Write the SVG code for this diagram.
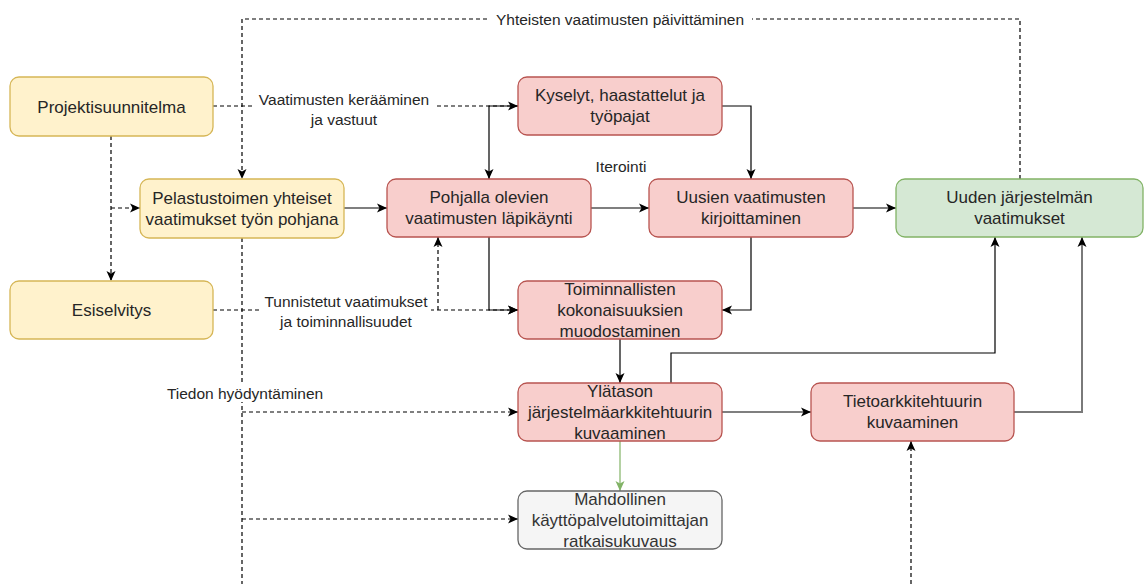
<svg xmlns="http://www.w3.org/2000/svg" width="1144" height="584" viewBox="0 0 1144 584">
<style>
.n text{font-family:"Liberation Sans",Arial,sans-serif;font-size:17px;fill:#262626;text-anchor:middle}
.y{fill:#fff2cc;stroke:#d6b656;stroke-width:1.3}
.r{fill:#f8cecc;stroke:#b85450;stroke-width:1.3}
.g{fill:#d5e8d4;stroke:#82b366;stroke-width:1.3}
.gr{fill:#f5f5f5;stroke:#666666;stroke-width:1.3}
.c path{fill:none;stroke:#000;stroke-width:1.2}
.c .d{stroke-dasharray:4 3}
.lb rect{fill:#fff}
.lb text{font-family:"Liberation Sans",Arial,sans-serif;font-size:15.5px;fill:#262626;text-anchor:middle}
</style>
<defs>
<marker id="a" viewBox="0 0 10 10" markerWidth="10" markerHeight="10" markerUnits="userSpaceOnUse" refX="10" refY="5" orient="auto"><path d="M0,0.5 L10,5 L0,9.5 L2.5,5 z" fill="#000"/></marker>
<marker id="ag" viewBox="0 0 10 10" markerWidth="10" markerHeight="10" markerUnits="userSpaceOnUse" refX="10" refY="5" orient="auto"><path d="M0,0.5 L10,5 L0,9.5 L2.5,5 z" fill="#82b366"/></marker>
</defs>
<rect width="1144" height="584" fill="#fff"/>
<g class="c" id="connectors">
<path class="d" d="M1020,179 V19 H242 V179" marker-end="url(#a)"/>
<path class="d" d="M213,106 H518" marker-end="url(#a)"/>
<path d="M518,106 H489 V179" marker-end="url(#a)"/>
<path d="M722,106 H751 V179" marker-end="url(#a)"/>
<path d="M344,208 H387" marker-end="url(#a)"/>
<path d="M591,208 H649" marker-end="url(#a)"/>
<path d="M853,208 H896" marker-end="url(#a)"/>
<path class="d" d="M111,136 V281" marker-end="url(#a)"/>
<path class="d" d="M111,208 H140" marker-end="url(#a)"/>
<path class="d" d="M213,310 H518" marker-end="url(#a)"/>
<path class="d" d="M438,310 V237" marker-end="url(#a)"/>
<path d="M489,237 V310 H518" marker-end="url(#a)"/>
<path d="M751,237 V310 H722" marker-end="url(#a)"/>
<path d="M620,339 V383" marker-end="url(#a)"/>
<path d="M722,412 H811" marker-end="url(#a)"/>
<path d="M671,383 V353 H995 V237" stroke="#333" marker-end="url(#a)"/>
<path d="M1014,412 H1082 V237" style="stroke:#7a7a7a;stroke-width:2" marker-end="url(#a)"/>
<path d="M620,441 V491" style="stroke:#82b366" marker-end="url(#ag)"/>
<path class="d" d="M242,238 V584"/>
<path class="d" d="M242,412 H518" marker-end="url(#a)"/>
<path class="d" d="M242,519 H518" marker-end="url(#a)"/>
<path class="d" d="M911,584 V441" marker-end="url(#a)"/>
</g>
<g class="lb" id="labels">
<rect x="488" y="10" width="264" height="18"/>
<text x="620" y="24.5">Yhteisten vaatimusten päivittäminen</text>
<rect x="254" y="90" width="180" height="38"/>
<text x="344" y="105">Vaatimusten kerääminen</text>
<text x="344" y="125">ja vastuut</text>
<text x="621" y="171.5">Iterointi</text>
<rect x="261" y="292" width="170" height="38"/>
<text x="346" y="306.5">Tunnistetut vaatimukset</text>
<text x="346" y="326.5">ja toiminnallisuudet</text>
<rect x="164" y="384" width="162" height="18"/>
<text x="245" y="398.5">Tiedon hyödyntäminen</text>
</g>
<g class="n" id="projektisuunnitelma"><rect class="y" x="10" y="77" width="203" height="59" rx="9"/><text x="111.5" y="113">Projektisuunnitelma</text></g>
<g class="n" id="pelastustoimen"><rect class="y" x="140" y="179" width="204" height="59" rx="9"/><text x="242" y="204">Pelastustoimen yhteiset</text><text x="242" y="225">vaatimukset työn pohjana</text></g>
<g class="n" id="esiselvitys"><rect class="y" x="10" y="281" width="203" height="58" rx="9"/><text x="111.5" y="316">Esiselvitys</text></g>
<g class="n" id="pohjalla"><rect class="r" x="387" y="179" width="204" height="58" rx="9"/><text x="489" y="203">Pohjalla olevien</text><text x="489" y="224">vaatimusten läpikäynti</text></g>
<g class="n" id="kyselyt"><rect class="r" x="518" y="77" width="204" height="58" rx="9"/><text x="620" y="101">Kyselyt, haastattelut ja</text><text x="620" y="122">työpajat</text></g>
<g class="n" id="uusien"><rect class="r" x="649" y="179" width="204" height="58" rx="9"/><text x="751" y="203">Uusien vaatimusten</text><text x="751" y="224">kirjoittaminen</text></g>
<g class="n" id="uuden"><rect class="g" x="896" y="179" width="247" height="58" rx="9"/><text x="1019.5" y="203">Uuden järjestelmän</text><text x="1019.5" y="224">vaatimukset</text></g>
<g class="n" id="toiminnallisten"><rect class="r" x="518" y="281" width="204" height="58" rx="9"/><text x="620" y="295">Toiminnallisten</text><text x="620" y="316">kokonaisuuksien</text><text x="620" y="337">muodostaminen</text></g>
<g class="n" id="ylatason"><rect class="r" x="518" y="383" width="204" height="58" rx="9"/><text x="620" y="397">Ylätason</text><text x="620" y="418">järjestelmäarkkitehtuurin</text><text x="620" y="439">kuvaaminen</text></g>
<g class="n" id="tietoarkkitehtuurin"><rect class="r" x="811" y="383" width="203" height="58" rx="9"/><text x="912.5" y="407">Tietoarkkitehtuurin</text><text x="912.5" y="428">kuvaaminen</text></g>
<g class="n" id="mahdollinen"><rect class="gr" x="518" y="491" width="204" height="58" rx="9"/><text x="620" y="505" style="fill:#333">Mahdollinen</text><text x="620" y="526" style="fill:#333">käyttöpalvelutoimittajan</text><text x="620" y="547" style="fill:#333">ratkaisukuvaus</text></g>
</svg>
